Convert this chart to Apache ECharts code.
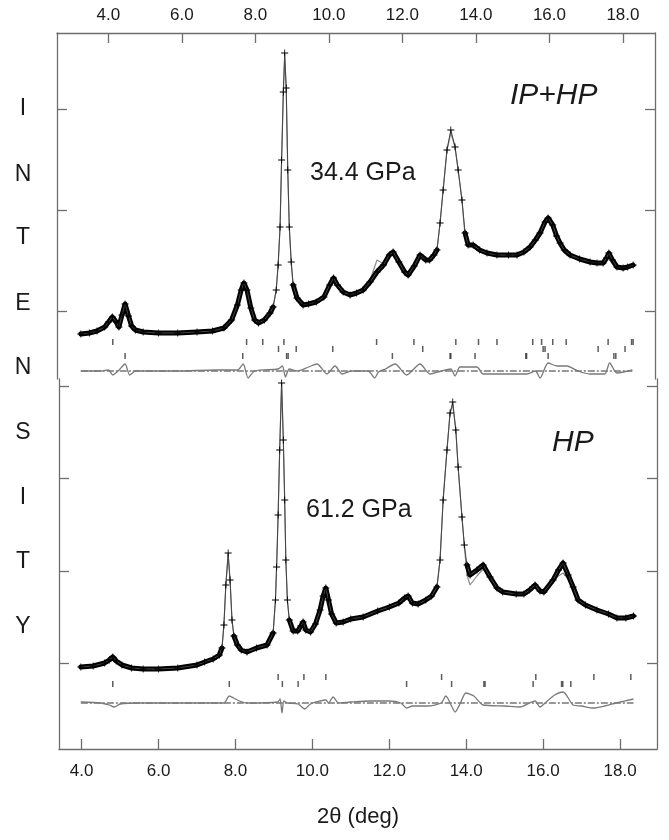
<!DOCTYPE html>
<html><head><meta charset="utf-8">
<script src="https://cdn.jsdelivr.net/npm/echarts@6/dist/echarts.min.js"></script>
<style>html,body{margin:0;padding:0;background:#fff}#c{width:669px;height:840px}</style>
</head><body><div id="c"></div>
<script>
// ---------- DATA ----------
const xTickValues = [4, 6, 8, 10, 12, 14, 16, 18];
const yTicksTop = [68, 169, 270];
const yTicksBottom = [86, 178, 271, 363];

// Upper panel (34.4 GPa, IP+HP): 2theta, observed, calculated
const topTheta = [3.98,4.2,4.4,4.6,4.7,4.8,4.9,4.97,5.05,5.13,
 5.22,5.3,5.4,5.6,6.0,6.5,7.0,7.4,7.7,7.9,
 8.05,8.15,8.22,8.3,8.4,8.5,8.6,8.75,8.9,8.98,
 9.06,9.11,9.16,9.2,9.245,9.28,9.32,9.36,9.4,9.45,
 9.5,9.6,9.76,9.9,10.1,10.3,10.45,10.55,10.65,10.8,
 10.98,11.15,11.32,11.5,11.68,11.85,12.0,12.1,12.25,12.4,
 12.49,12.65,12.8,12.95,13.05,13.16,13.24,13.32,13.4,13.5,
 13.6,13.71,13.79,13.89,13.97,14.05,14.18,14.35,14.54,14.8,
 15.1,15.32,15.5,15.66,15.8,15.92,16.05,16.13,16.25,16.35,
 16.44,16.55,16.7,16.95,17.22,17.4,17.56,17.65,17.71,17.8,
 17.92,18.08,18.2,18.34];
const topObs = [45,46,48,52,57,62,57,52,64,75,
 63,53,49,47,46,46,47,48,51,59,
 74,89,96,89,71,59,56,59,66,72,
 89,114,152,219,287,326,291,209,152,117,
 94,81,74,75,77,82,94,101,94,87,
 84,86,89,97,107,114,124,127,117,107,
 104,113,124,119,119,124,129,156,189,229,
 249,232,209,179,146,134,134,129,126,124,
 124,124,127,132,139,146,157,161,154,143,
 136,129,124,120,117,116,116,121,126,119,
 112,111,112,114];
const topCalc = [45,46,48,52,57,62,57,52,64,72,
 63,53,49,47,46,46,47,48,51,59,
 74,89,93,89,71,59,56,59,66,72,
 89,114,152,219,287,322,291,209,152,117,
 94,81,74,75,77,82,94,98,94,87,
 84,86,89,99,119,115,122,124,117,107,
 104,113,124,119,119,124,129,156,189,229,
 246,232,209,179,143,134,134,129,126,124,
 124,124,127,132,139,146,157,158,154,143,
 136,129,124,120,117,116,116,121,122,119,
 112,111,112,114];
const topDiffTheta = [3.98,4.5,4.7,4.81,4.95,5.13,5.25,5.4,6.5,7.5,
 8.05,8.2,8.33,8.5,9.1,9.22,9.3,9.4,9.6,9.9,
 10.12,10.38,10.59,10.78,11.0,11.45,11.62,11.72,11.9,12.15,
 12.45,12.8,13.06,13.35,13.6,13.71,13.84,14.28,14.44,15.58,
 15.8,15.92,16.13,16.36,16.62,16.9,17.22,17.6,17.73,17.92,
 18.32];
const topDiff = [0,0,1,-4,0,7,-4,0,0,1,
 1,7,-7,0,2,5,-6,2,0,4,
 7,-3,5,-3,0,0,-7,-1,2,7,
 -4,7,-3,0,2,-5,4,4,-3,-3,
 0,-7,8,5,5,0,-3,-3,8,-2,
 1];
const topDiffOffset = 8;
const topBraggRow1 = [4.81,8.29,8.71,9.26,11.67,12.64,13.73,14.32,14.80,15.73,15.96,16.25,16.60,17.69,18.30,18.34];
const topBraggRow2 = [9.12,9.58,10.53,12.87,16.00,16.05,17.43,18.13];
const topBraggRow3 = [5.13,8.19,9.33,9.37,12.08,13.58,13.60,14.23,15.55,15.57,16.13,17.84,17.89];
const topBraggLevels = [37, 30, 23];

// Lower panel (61.2 GPa, HP)
const botTheta = [3.98,4.3,4.6,4.72,4.81,4.9,5.05,5.3,5.6,6.0,
 6.5,7.0,7.2,7.42,7.58,7.65,7.7,7.75,7.81,7.86,
 7.91,7.96,8.05,8.15,8.3,8.55,8.82,8.98,9.04,9.07,
 9.11,9.15,9.2,9.245,9.28,9.31,9.35,9.4,9.5,9.62,
 9.7,9.76,9.83,9.95,10.08,10.2,10.28,10.35,10.42,10.5,
 10.62,10.8,11.0,11.32,11.7,12.0,12.25,12.4,12.49,12.6,
 12.75,12.95,13.1,13.24,13.32,13.4,13.5,13.58,13.65,13.73,
 13.79,13.89,13.95,14.02,14.1,14.28,14.44,14.62,14.8,14.95,
 15.3,15.5,15.65,15.79,15.92,16.02,16.26,16.4,16.52,16.65,
 16.78,16.91,17.1,17.4,17.7,17.92,18.15,18.35];
const botObs = [82,83,86,89,92,88,84,81,80,80,
 81,84,87,90,94,101,124,164,196,169,
 129,113,104,99,97,101,104,116,149,182,
 234,299,366,309,249,189,149,129,118,118,
 123,127,119,117,125,139,153,161,149,135,
 126,127,130,132,138,142,146,151,153,146,
 145,149,153,162,189,249,299,336,347,319,
 282,232,204,184,174,179,184,172,161,157,
 155,155,159,164,158,157,169,179,186,174,
 162,149,144,139,135,131,131,133];
const botCalc = [82,83,86,89,92,88,84,81,80,80,
 81,84,87,90,94,101,124,164,193,169,
 129,113,104,99,97,101,104,116,149,182,
 234,299,366,309,249,189,149,129,118,118,
 123,123,119,117,125,139,153,158,149,135,
 126,127,130,132,138,142,146,151,149,146,
 145,149,153,162,189,249,299,336,344,319,
 282,232,204,174,164,173,180,172,161,157,
 155,155,159,164,158,157,169,173,176,170,
 162,149,144,139,135,131,131,133];
const botDiffTheta = [3.98,4.5,4.72,4.85,5.0,5.5,6.5,7.5,7.7,7.84,
 7.95,8.1,8.3,9.1,9.16,9.21,9.26,9.35,9.63,9.8,
 9.95,10.2,10.35,10.42,10.54,10.68,11.0,11.5,12.0,12.3,
 12.45,12.6,13.0,13.35,13.47,13.62,13.71,13.85,13.99,14.2,
 14.44,15.0,15.4,15.65,15.79,15.92,16.05,16.3,16.52,16.78,
 17.0,17.3,17.6,17.9,18.35];
const botDiff = [1,0,-2,-4,-1,0,0,0,0,7,
 5,2,0,1,4,-10,2,0,-1,-6,
 -1,2,3,0,6,0,1,2,2,0,
 -5,-3,-3,0,7,-3,-9,0,10,7,
 -2,-3,-4,0,2,-4,0,8,11,-2,
 -3,-5,-3,0,4];
const botDiffOffset = 46;
const botBraggRow1 = [9.11,9.78,10.35,13.36,15.81,17.32,18.28];
const botBraggRow2 = [4.81,7.84,9.22,9.63,12.45,13.62,14.46,14.49,15.74,16.48,16.51,16.72];
const botBraggLevels = [72, 65];

const yLetters = ['I','N','T','E','N','S','I','T','Y'];

// ---------- CHART ----------
const FONT = '"Liberation Sans", Arial, sans-serif';
const frameColor = '#6e6e6e';
const plusPath = 'path://M0,4.4H10V5.6H0Z M4.4,0H5.6V10H4.4Z';
const pxPerDeg = 38.46;     // horizontal scale of the data axis (for stroke style only)
const pairs = (xs, ys, off) => xs.map((x, i) => [x, ys[i] + (off || 0)]);
const flat = (xs, level) => xs.map(x => [x, level]);

// heavy band where the dense "+" markers merge; broken on the steep flanks (and tops) of tall peaks
function shallowOnly(xs, ys) {
  const n = xs.length, s = [];
  for (let i = 0; i < n - 1; i++) s.push(Math.abs(ys[i + 1] - ys[i]) / ((xs[i + 1] - xs[i]) * pxPerDeg));
  const steep = i => i >= 0 && i < n - 1 && s[i] > 4.7;
  const out = [];
  for (let i = 0; i < n; i++) {
    out.push([xs[i], ys[i]]);
    if (i < n - 1 && (steep(i) || (steep(i - 1) && steep(i + 1)))) out.push(null);
  }
  return out;
}
function obsSeries(xi, yi, xs, ys) {
  return [
    { type: 'line', xAxisIndex: xi, yAxisIndex: yi, data: shallowOnly(xs, ys), connectNulls: false,
      showSymbol: false, lineStyle: { color: '#000', width: 5, cap: 'round', join: 'round' }, z: 4, silent: true },
    { type: 'line', xAxisIndex: xi, yAxisIndex: yi, data: pairs(xs, ys),
      symbol: plusPath, symbolSize: 7, showSymbol: true,
      itemStyle: { color: '#000' }, lineStyle: { color: '#444', width: 1 }, z: 5, silent: true }
  ];
}
function calcSeries(xi, yi, xs, ys) {
  return { type: 'line', xAxisIndex: xi, yAxisIndex: yi, data: pairs(xs, ys), showSymbol: false,
    lineStyle: { color: '#8c8c8c', width: 1.2 }, z: 3, silent: true };
}
function diffSeries(xi, yi, xs, ys, off) {
  return [
    { type: 'line', xAxisIndex: xi, yAxisIndex: yi, data: pairs(xs, ys, off), showSymbol: false,
      smooth: 0.25, lineStyle: { color: '#7a7a7a', width: 1.3 }, z: 3, silent: true },
    { type: 'line', xAxisIndex: xi, yAxisIndex: yi,
      data: [[xs[0], off], [xs[xs.length - 1], off]], showSymbol: false,
      lineStyle: { color: '#333', width: 1.1, type: [7, 2, 2, 2] }, z: 2, silent: true }
  ];
}
function braggSeries(xi, yi, xs, level) {
  return { type: 'scatter', xAxisIndex: xi, yAxisIndex: yi, data: flat(xs, level),
    symbol: 'rect', symbolSize: [1.5, 6], itemStyle: { color: '#333' }, z: 3, silent: true };
}

const labelStyle = { color: '#1a1a1a', fontFamily: FONT, fontSize: 17, formatter: v => Number(v).toFixed(1) };
function xLabelled(grid, pos, min, max, margin, extra) {
  return Object.assign({
    gridIndex: grid, type: 'value', position: pos, min: min, max: max,
    axisLine: { show: true, onZero: false, lineStyle: { color: frameColor, width: 1.3 } },
    axisTick: { show: true, inside: true, length: 10, customValues: xTickValues, lineStyle: { color: frameColor, width: 1.3 } },
    axisLabel: Object.assign({ customValues: xTickValues, margin: margin }, labelStyle),
    splitLine: { show: false }
  }, extra || {});
}
function yFrame(grid, pos, max, ticks) {
  return { gridIndex: grid, type: 'value', position: pos, min: 0, max: max,
    axisLine: { show: true, onZero: false, lineStyle: { color: frameColor, width: 1.3 } },
    axisTick: { show: true, inside: true, length: 10, customValues: ticks, lineStyle: { color: frameColor, width: 1.3 } },
    axisLabel: { show: false }, splitLine: { show: false } };
}

const graphics = [];
const letterY = [109, 175, 238, 304, 368, 433, 498, 562, 627];
yLetters.forEach((ch, i) => graphics.push({ type: 'text', x: 23, y: letterY[i],
  style: { text: ch, font: '23px ' + FONT, fill: '#1a1a1a', textAlign: 'center', textVerticalAlign: 'middle', align: 'center', verticalAlign: 'middle' } }));
const panelTexts = [
  { t: '34.4 GPa', x: 310, y: 173, f: '25px ' + FONT },
  { t: '61.2 GPa', x: 306, y: 510, f: '25px ' + FONT },
  { t: 'IP+HP', x: 510, y: 96, f: 'italic 30px ' + FONT },
  { t: 'HP', x: 552, y: 443, f: 'italic 30px ' + FONT }
];
panelTexts.forEach(p => graphics.push({ type: 'text', x: p.x, y: p.y,
  style: { text: p.t, font: p.f, fill: '#1a1a1a', textAlign: 'left', textVerticalAlign: 'middle', align: 'left', verticalAlign: 'middle' } }));

const option = {
  animation: false,
  backgroundColor: '#fff',
  grid: [
    { left: 57, top: 33, width: 598, height: 346 },
    { left: 59, top: 379, width: 598, height: 370 }
  ],
  xAxis: [
    { gridIndex: 0, type: 'value', min: 3.360, max: 18.909, show: false },
    xLabelled(0, 'top', 2.604, 18.872, 9),
    xLabelled(1, 'bottom', 3.412, 18.961, 14, {
      name: '2θ (deg)', nameLocation: 'middle', nameGap: 57,
      nameTextStyle: { color: '#1a1a1a', fontFamily: FONT, fontSize: 22 } })
  ],
  yAxis: [
    yFrame(0, 'left', 346, yTicksTop),
    yFrame(0, 'right', 346, yTicksTop),
    yFrame(1, 'left', 370, yTicksBottom),
    yFrame(1, 'right', 370, yTicksBottom)
  ],
  series: [
    calcSeries(0, 0, topTheta, topCalc),
    ...obsSeries(0, 0, topTheta, topObs),
    ...diffSeries(0, 0, topDiffTheta, topDiff, topDiffOffset),
    braggSeries(0, 0, topBraggRow1, topBraggLevels[0]),
    braggSeries(0, 0, topBraggRow2, topBraggLevels[1]),
    braggSeries(0, 0, topBraggRow3, topBraggLevels[2]),
    calcSeries(2, 2, botTheta, botCalc),
    ...obsSeries(2, 2, botTheta, botObs),
    ...diffSeries(2, 2, botDiffTheta, botDiff, botDiffOffset),
    braggSeries(2, 2, botBraggRow1, botBraggLevels[0]),
    braggSeries(2, 2, botBraggRow2, botBraggLevels[1])
  ],
  graphic: graphics
};
const chart = echarts.init(document.getElementById('c'), null, { renderer: 'canvas' });
chart.setOption(option);
</script></body></html>
